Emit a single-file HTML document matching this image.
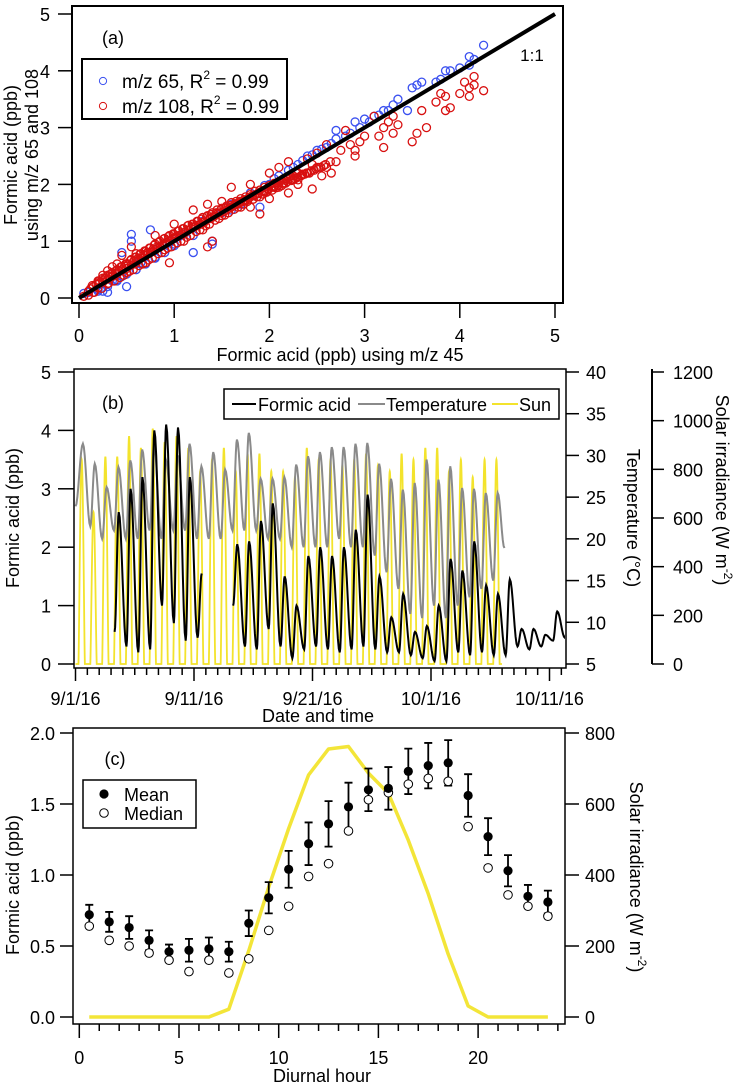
<!DOCTYPE html>
<html><head><meta charset="utf-8"><style>
html,body{margin:0;padding:0;background:#fff;}
svg{display:block;font-family:"Liberation Sans",sans-serif;}
text{fill:#000;}
</style></head><body>
<svg id="fig" width="735" height="1088" viewBox="0 0 735 1088" xmlns="http://www.w3.org/2000/svg">
<g id="pa"></g>
<g id="pb"></g>
<g id="pc"></g>
</svg>
<script>
// ---------- Panel (a) data ----------
const aTicks = [0,1,2,3,4,5];
const blueX = [0.05,0.1,0.2,0.3,0.4,0.5,0.5,0.6,0.7,0.8,0.9,0.55,0.55,0.75,0.45,1.0,1.2,1.4,1.4,1.2,1.5,1.9,1.7,2.0,2.2,2.3,2.4,2.5,2.6,2.7,2.7,2.8,2.9,3.0,3.1,3.2,3.3,3.35,3.45,3.5,3.55,3.6,3.75,3.8,3.85,3.9,4.0,4.1,4.1,4.15,4.25,1.8,1.6,2.1,0.3,0.25,0.6,0.85,1.1,1.3,0.15,0.35,0.45,0.65,0.95,1.05,1.25,1.55,2.05,2.35,2.55,2.85,3.05,3.25,0.2,0.4,0.6,0.8,1.0,1.6,1.95,2.25,2.45,2.65,2.95,3.15];
const blueY = [0.08,0.1,0.15,0.2,0.3,0.2,0.42,0.5,0.6,0.7,0.8,1.0,1.12,1.2,0.8,0.95,0.8,0.95,1.0,1.1,1.5,1.6,1.65,2.0,2.25,2.35,2.5,2.6,2.65,2.8,2.95,2.85,3.1,3.15,3.2,3.3,3.4,3.5,3.3,3.7,3.75,3.8,3.8,3.85,4.0,4.0,4.05,4.1,4.25,4.2,4.45,1.85,1.65,2.15,0.1,0.12,0.6,0.9,1.12,1.35,0.1,0.3,0.38,0.62,0.97,1.08,1.28,1.6,2.1,2.42,2.62,2.9,3.1,3.3,0.12,0.32,0.5,0.72,0.92,1.55,1.98,2.3,2.52,2.72,3.0,3.22];
const redX = [0.05,0.1,0.15,0.2,0.25,0.3,0.35,0.4,0.45,0.5,0.55,0.6,0.65,0.7,0.75,0.8,0.85,0.9,0.95,1.0,1.05,1.1,1.15,1.2,1.25,1.3,1.35,1.4,1.45,1.5,1.55,1.6,1.65,1.7,1.75,1.8,1.85,1.9,1.95,2.0,2.05,2.1,2.15,2.2,2.25,2.3,
0.3,0.5,0.7,0.9,1.1,1.3,1.5,1.7,1.9,2.1,2.3,2.4,2.5,2.2,2.0,1.8,1.9,1.4,1.35,0.95,
0.6,0.8,1.0,1.2,1.35,1.6,0.45,0.55,1.5,1.8,2.0,2.2,2.1,
2.4,2.5,2.45,2.55,2.6,2.65,2.7,2.75,2.8,2.85,2.9,2.95,3.0,2.9,3.1,3.15,3.2,3.25,3.3,3.35,3.3,3.5,3.55,3.6,3.65,3.75,3.8,3.85,3.85,3.9,4.0,4.05,4.1,4.1,4.15,4.15,4.25,3.2,2.6,2.3,2.45,
0.1,0.15,0.2,0.25,0.3,0.35,0.4,0.2,0.25,0.3,0.35,0.4,0.45,0.5,0.55,0.6,0.65,0.7,0.75,0.8,0.85,0.9,0.95,1.0,1.05,1.1,1.15,1.2,1.25,1.3,1.4,1.45,1.55,1.6,1.65,1.7,1.75,1.8,1.85,1.95,2.05,2.15,2.25,2.35,
0.12,0.18,0.22,0.28,0.32,0.38,0.42,0.48,0.52,0.58,0.62,0.68,0.72,0.78,0.82,0.88,0.92,0.98,1.02,1.08,1.12,1.18,1.22,1.28,1.32,1.38,1.42,1.48,1.52,1.58,1.62,1.68,1.72,1.78,1.82,1.88,1.92,1.98,2.02,2.08,2.12,2.18,2.22,2.28,
0.14,0.21,0.27,0.33,0.39,0.44,0.49,0.54,0.59,0.64,0.69,0.74,0.79,0.84,0.89,0.94,0.99,1.04,1.09,1.14,1.19,1.24,1.29,1.34,1.39,1.44,1.49,1.54,1.59,1.64,1.69,1.74,1.79,1.84,1.89,1.94,1.99,2.04,2.09,2.14,2.19,2.24,2.29,2.34,2.39,2.44,2.49,2.54,2.59,2.64,
0.16,0.24,0.31,0.37,0.43,0.47,0.53,0.57,0.63,0.67,0.73,0.77,0.83,0.87,0.93,0.97,1.03,1.07,1.13,1.17,1.23,1.27,1.33,1.37,1.43,1.47,1.53,1.57,1.63,1.67,1.73,1.77,1.83,1.87,1.93,1.97,2.03,2.07,2.13,2.17,2.23,2.27,2.33,2.37,2.42,2.47,2.52,2.57];
const redY = [0.03,0.12,0.2,0.25,0.35,0.4,0.45,0.5,0.55,0.6,0.68,0.72,0.78,0.82,0.88,0.95,1.0,1.05,1.1,1.12,1.18,1.22,1.28,1.3,1.35,1.42,1.45,1.5,1.55,1.58,1.62,1.68,1.7,1.75,1.78,1.82,1.88,1.9,1.95,1.98,2.02,2.05,2.1,2.12,2.15,2.2,
0.25,0.45,0.62,0.85,1.0,1.2,1.45,1.6,1.78,1.95,2.08,2.2,2.3,1.85,1.75,1.6,1.48,1.0,0.9,0.62,
0.78,1.1,1.3,1.55,1.65,1.95,0.75,0.9,1.7,2.0,2.2,2.4,2.3,
2.45,2.55,1.92,2.15,2.3,2.2,2.4,2.6,2.95,2.7,2.6,2.75,2.85,2.5,3.2,2.85,2.65,3.1,3.2,3.05,2.9,2.75,2.9,3.3,3.0,3.45,3.6,3.55,3.3,3.35,3.6,3.8,3.55,3.7,3.9,3.75,3.65,3.0,2.7,2.0,2.35,
0.05,0.1,0.18,0.28,0.33,0.38,0.42,0.3,0.4,0.48,0.55,0.6,0.48,0.52,0.58,0.62,0.7,0.75,0.8,0.85,0.9,0.95,1.0,1.05,1.1,1.15,1.2,1.25,1.28,1.33,1.42,1.48,1.55,1.6,1.65,1.7,1.72,1.78,1.82,1.88,1.96,2.02,2.08,2.18,
0.16,0.24,0.28,0.34,0.38,0.44,0.48,0.56,0.6,0.66,0.7,0.76,0.8,0.86,0.9,0.94,0.98,1.04,1.08,1.12,1.16,1.22,1.26,1.3,1.34,1.4,1.44,1.5,1.52,1.58,1.62,1.66,1.7,1.76,1.8,1.84,1.88,1.92,1.96,2.02,2.06,2.1,2.14,2.2,
0.22,0.3,0.35,0.42,0.48,0.55,0.6,0.66,0.72,0.77,0.83,0.88,0.93,0.98,1.04,1.08,1.13,1.18,1.22,1.27,1.3,1.35,1.39,1.43,1.47,1.5,1.55,1.58,1.63,1.66,1.7,1.73,1.77,1.8,1.84,1.88,1.91,1.95,1.98,2.02,2.05,2.09,2.12,2.16,2.2,2.24,2.28,2.3,2.35,2.4,
0.1,0.17,0.26,0.3,0.36,0.4,0.47,0.5,0.57,0.6,0.67,0.7,0.78,0.8,0.88,0.9,0.97,1.0,1.07,1.1,1.17,1.2,1.27,1.3,1.37,1.4,1.46,1.5,1.56,1.6,1.65,1.7,1.74,1.78,1.83,1.86,1.9,1.94,1.98,2.02,2.07,2.1,2.15,2.18,2.2,2.25,2.3,2.33];

// ---------- Panel (b) data ----------
const bDateLabels = ["9/1/16","9/11/16","9/21/16","10/1/16","10/11/16"];
const bDateDays = [0,10,20,30,40];
const bLeftTicks = [0,1,2,3,4,5];
const bTempTicks = [5,10,15,20,25,30,35,40];
const bSolarTicks = [0,200,400,600,800,1000,1200];
const faMax = [null,null,null,2.6,3.0,3.2,4.0,4.1,4.05,3.2,1.55,null,null,2.05,2.1,2.45,2.75,1.5,1.0,1.85,2.0,1.85,2.0,2.3,2.9,1.5,0.8,1.2,0.55,0.65,1.0,1.8,1.6,2.1,1.35,1.2,1.45,0.6,0.6,0.5,0.9,0.75];
const faMin = [null,null,null,0.55,0.3,0.2,0.25,1.0,0.7,0.4,0.45,null,null,1.0,0.3,0.25,0.6,0.3,0.1,0.25,0.3,0.25,0.2,0.25,0.3,0.25,0.2,0.2,0.15,0.1,0.05,0.05,0.2,0.15,0.2,0.15,0.15,0.3,0.25,0.3,0.4,0.45];
const tempMax = [31.4,29,26.2,28.6,29.4,30.7,31.3,29.5,30,31.4,28.7,30.4,28.3,31.9,32.7,27.2,27.2,27.4,28.9,29.9,30.4,31,31,31.4,31.5,29,27.2,25.9,26.7,29.5,27.1,28.7,26.1,26,25.5,25.5];
const tempMin = [22,21.5,20,21,20,20,21,20,21,21,20,20,20,21,21,21,20,20,19,19,19,19,20,19,19,18,16,14,11,10.5,12,10.5,12,13,14,15];
const sunPeak = [840,624,852,852,936,888,967,912,936,888,792,840,888,792,864,864,792,792,768,888,840,840,816,840,864,816,792,864,840,888,888,792,840,768,840,840];

// ---------- Panel (c) data ----------
const cHours = [0.5,1.5,2.5,3.5,4.5,5.5,6.5,7.5,8.5,9.5,10.5,11.5,12.5,13.5,14.5,15.5,16.5,17.5,18.5,19.5,20.5,21.5,22.5,23.5];
const cMean = [0.72,0.67,0.63,0.54,0.46,0.47,0.48,0.46,0.66,0.84,1.04,1.22,1.36,1.48,1.60,1.61,1.73,1.77,1.79,1.56,1.27,1.03,0.85,0.81];
const cErr = [0.07,0.07,0.08,0.07,0.05,0.08,0.08,0.07,0.09,0.11,0.13,0.15,0.16,0.17,0.15,0.15,0.16,0.16,0.16,0.15,0.13,0.11,0.08,0.08];
const cMedian = [0.64,0.54,0.50,0.45,0.40,0.32,0.40,0.31,0.41,0.61,0.78,0.99,1.08,1.31,1.53,1.58,1.64,1.68,1.66,1.34,1.05,0.86,0.78,0.71];
const cSolar = [0,0,0,0,0,0,0,22,187,366,531,682,755,762,687,630,498,347,177,31,0,0,0,0];
const cXTicks = [0,5,10,15,20];
const cLeftTicks = [0,0.5,1.0,1.5,2.0];
const cRightTicks = [0,200,400,600,800];

const NS = "http://www.w3.org/2000/svg";
const FS = 18;
function mk(parent, tag, attrs, txt){
  const e = document.createElementNS(NS, tag);
  for (const k in attrs) e.setAttribute(k, attrs[k]);
  if (txt !== undefined) e.textContent = txt;
  parent.appendChild(e);
  return e;
}
function line(p,x1,y1,x2,y2,w,c){return mk(p,"line",{x1:x1,y1:y1,x2:x2,y2:y2,stroke:c||"#000","stroke-width":w||1.3});}
function txt(p,x,y,s,anchor,size){return mk(p,"text",{x:x,y:y,"text-anchor":anchor||"middle","font-size":size||FS},s);}

// ================= Panel A =================
(function(){
  const g = document.getElementById("pa");
  const xA = v => 79 + v*95.2;
  const yA = v => 298 - v*56.8;
  const box = mk(g,"rect",{x:72,y:6,width:491,height:297,fill:"none",stroke:"#000","stroke-width":2});
  
  
  aTicks.forEach(t=>{
    const tk = line(g,xA(t),303,xA(t),318,1.5);
    
    
    const tl = txt(g,xA(t),342,String(t));
    
    
    const ty = line(g,58,yA(t),72,yA(t),1.5);
    
    
    const yl = txt(g,50,yA(t)+7,String(t),"end");
    
    
  });
  blueX.forEach((v,i)=>{
    const c = mk(g,"circle",{cx:xA(v),cy:yA(blueY[i]),r:4,fill:"none",stroke:"#3a50f0","stroke-width":1.3});
    
    
  });
  redX.forEach((v,i)=>{
    const c = mk(g,"circle",{cx:xA(v),cy:yA(redY[i]),r:4,fill:"none",stroke:"#d81010","stroke-width":1.3});
    
    
  });
  const l11 = line(g,xA(0),yA(0),xA(5),yA(5),4,"#000");
  
  
  const t11 = txt(g,532,61,"1:1","middle",17);
  
  
  const pl = txt(g,102,44,"(a)","start",18);
  
  
  const lg = mk(g,"g",{});
  
  
  mk(lg,"rect",{x:82,y:59,width:205,height:60,fill:"#fff",stroke:"#000","stroke-width":2});
  const e1 = mk(lg,"g",{});
  
  
  mk(e1,"circle",{cx:103,cy:81,r:3.6,fill:"none",stroke:"#3a50f0","stroke-width":1});
  const t1 = mk(e1,"text",{x:122,y:88,"font-size":19});
  t1.innerHTML = 'm/z 65, R<tspan dy="-9" font-size="12">2</tspan><tspan dy="9"> = 0.99</tspan>';
  const e2 = mk(lg,"g",{});
  
  
  mk(e2,"circle",{cx:103,cy:106,r:3.6,fill:"none",stroke:"#d81010","stroke-width":1});
  const t2 = mk(e2,"text",{x:122,y:113,"font-size":19});
  t2.innerHTML = 'm/z 108, R<tspan dy="-9" font-size="12">2</tspan><tspan dy="9"> = 0.99</tspan>';
  const xt = txt(g,340,361,"Formic acid (ppb) using m/z 45");
  
  
  const yt = mk(g,"text",{transform:"translate(17,155) rotate(-90)","text-anchor":"middle","font-size":FS},"Formic acid (ppb)");
  
  
  const yt2 = mk(g,"text",{transform:"translate(38,155) rotate(-90)","text-anchor":"middle","font-size":FS},"using m/z 65 and 108");
  
  
})();

// ================= Panel B =================
(function(){
  const g = document.getElementById("pb");
  const xB = d => 75.5 + d*11.85;
  const yB = v => 664 - v*58.4;
  const yT = c => 664 - (c-5)/35*292;
  const yS = w => 664 - w/1200*292;
  const cp = mk(g,"clipPath",{id:"clipb"});
  mk(cp,"rect",{x:74,y:369,width:491,height:299});
  const plot = mk(g,"g",{"clip-path":"url(#clipb)"});
  let sd = "";
  sunPeak.forEach((p,d)=>{
    for(let q=0;q<96;q++){
      const h = q/4;
      let s = Math.max(0, Math.sin(Math.PI*(h-6)/13));
      if (h<6||h>19) s = 0;
      s = Math.pow(s,1.3);
      sd += (sd===""?"M":"L") + xB(d+h/24).toFixed(2)+","+yS(p*s).toFixed(2);
    }
  });
  const sun = mk(plot,"path",{d:sd,fill:"none",stroke:"#f3e32c","stroke-width":1.8});
  
  
  const tk = [[0,23.9]];
  tempMax.forEach((mx,d)=>{
    if(d>0) tk.push([d+6/24,tempMin[d]]);
    tk.push([d+15/24,mx]);
  });
  tk.push([36.2,18.9]);
  function smooth(kp, yf){
    let dd="";
    for(let i=0;i<kp.length-1;i++){
      const [t0,v0]=kp[i],[t1,v1]=kp[i+1];
      const n=8;
      for(let j=(i===0?0:1);j<=n;j++){
        const f=j/n, w=(1-Math.cos(Math.PI*f))/2;
        dd += (dd===""?"M":"L")+xB(t0+(t1-t0)*f).toFixed(2)+","+yf(v0+(v1-v0)*w).toFixed(2);
      }
    }
    return dd;
  }
  const temp = mk(plot,"path",{d:smooth(tk,yT),fill:"none",stroke:"#8a8a8a","stroke-width":2});
  
  
  let seg=[], segs=[];
  faMax.forEach((mx,d)=>{
    if(mx===null){ if(seg.length) segs.push(seg); seg=[]; return; }
    seg.push([d+0.3,faMin[d]]); seg.push([d+0.65,mx]);
  });
  if(seg.length) segs.push(seg);
  segs.forEach(s=>{
    const p = mk(plot,"path",{d:smooth(s,yB),fill:"none",stroke:"#000","stroke-width":2});
    
    
  });
  const box = mk(g,"rect",{x:74,y:369,width:492,height:299,fill:"none",stroke:"#000","stroke-width":1.5});
  
  
  for(let d=0; d<=41; d++){
    const major = bDateDays.indexOf(d)>=0;
    const t = line(g,xB(d),668,xB(d),major?681:675,1.5);
    
    
  }
  bDateLabels.forEach((s,i)=>{
    const t = txt(g,xB(bDateDays[i]),705,s);
    
    
  });
  bLeftTicks.forEach(v=>{
    const t = line(g,58,yB(v),74,yB(v),1.5);
    
    
    const l = txt(g,51,yB(v)+7,String(v),"end");
    
    
  });
  bTempTicks.forEach(v=>{
    const t = line(g,566,yT(v),579,yT(v),1.5);
    
    
    const l = txt(g,586,yT(v)+7,String(v),"start");
    
    
  });
  const sax = line(g,652,369,652,664,2);
  
  
  bSolarTicks.forEach(v=>{
    const t = line(g,652,yS(v),664,yS(v),1.5);
    
    
    const l = txt(g,673,yS(v)+7,String(v),"start");
    
    
  });
  const pl = txt(g,113,409,"(b)","middle",18);
  
  
  const lg = mk(g,"g",{});
  
  
  mk(lg,"rect",{x:224,y:389,width:335,height:30,fill:"#fff",stroke:"#000","stroke-width":1.5});
  const ents = [[232,256,258,"Formic acid","#000"],[358,385,386,"Temperature","#8a8a8a"],[492,518,519,"Sun","#f3e32c"]];
  ents.forEach(e=>{
    const eg = mk(lg,"g",{});
    
    
    line(eg,e[0],404,e[1],404,2,e[4]);
    txt(eg,e[2],411,e[3],"start",18);
  });
  const xt = txt(g,318,722,"Date and time");
  
  
  const yt = mk(g,"text",{transform:"translate(19,518) rotate(-90)","text-anchor":"middle","font-size":FS},"Formic acid (ppb)");
  
  
  const tt = mk(g,"text",{transform:"translate(627,518) rotate(90)","text-anchor":"middle","font-size":FS},"Temperature (°C)");
  
  
  const st = mk(g,"text",{transform:"translate(716,490) rotate(90)","text-anchor":"middle","font-size":FS});
  st.innerHTML = 'Solar irradiance (W m<tspan dy="-8" font-size="12">-2</tspan><tspan dy="8">)</tspan>';
  
  
})();

// ================= Panel C =================
(function(){
  const g = document.getElementById("pc");
  const xC = h => 79.3 + h*19.94;
  const yC = v => 1017 - v*142;
  const yR = w => 1017 - w/800*284;
  const box = mk(g,"rect",{x:73,y:728,width:492,height:296,fill:"none",stroke:"#000","stroke-width":1.5});
  
  
  for(let h=0; h<=24; h++){
    const major = cXTicks.indexOf(h)>=0;
    const t = line(g,xC(h),1024,xC(h),major?1038:1031,1.5);
    
    
  }
  cXTicks.forEach(h=>{
    const l = txt(g,xC(h),1064,String(h));
    
    
  });
  cLeftTicks.forEach(v=>{
    const t = line(g,60,yC(v),73,yC(v),1.5);
    
    
    const l = txt(g,55,yC(v)+7,v.toFixed(1),"end");
    
    
  });
  cRightTicks.forEach(v=>{
    const t = line(g,565,yR(v),579,yR(v),1.5);
    
    
    const l = txt(g,585,yR(v)+7,String(v),"start");
    
    
  });
  let d="";
  cHours.forEach((h,i)=>{ d += (i?"L":"M")+xC(h).toFixed(2)+","+yR(cSolar[i]).toFixed(2); });
  const sl = mk(g,"path",{d:d,fill:"none",stroke:"#f3e538","stroke-width":3.5,"stroke-linejoin":"round"});
  
  
  cHours.forEach((h,i)=>{
    const x = xC(h);
    const eb = mk(g,"path",{d:`M${x},${yC(cMean[i]-cErr[i])}V${yC(cMean[i]+cErr[i])}M${x-4},${yC(cMean[i]-cErr[i])}H${x+4}M${x-4},${yC(cMean[i]+cErr[i])}H${x+4}`,stroke:"#000","stroke-width":1.8,fill:"none"});
    
    
    const md = mk(g,"circle",{cx:x,cy:yC(cMedian[i]),r:4.3,fill:"#fff",stroke:"#000","stroke-width":1});
    
    
    const mn = mk(g,"circle",{cx:x,cy:yC(cMean[i]),r:4.6,fill:"#000"});
    
    
  });
  const pl = txt(g,115,765,"(c)","middle",18);
  
  
  const lg = mk(g,"g",{});
  
  
  mk(lg,"rect",{x:83,y:780,width:113,height:48,fill:"#fff",stroke:"#000","stroke-width":1.5});
  const m1 = mk(lg,"g",{});
  
  
  mk(m1,"circle",{cx:104,cy:794,r:4.6,fill:"#000"});
  txt(m1,124,801,"Mean","start",18);
  const m2 = mk(lg,"g",{});
  
  
  mk(m2,"circle",{cx:104,cy:813,r:4.3,fill:"#fff",stroke:"#000","stroke-width":1});
  txt(m2,124,820,"Median","start",18);
  const xt = txt(g,322,1082,"Diurnal hour");
  
  
  const yt = mk(g,"text",{transform:"translate(19,885) rotate(-90)","text-anchor":"middle","font-size":FS},"Formic acid (ppb)");
  
  
  const st = mk(g,"text",{transform:"translate(630,877) rotate(90)","text-anchor":"middle","font-size":FS});
  st.innerHTML = 'Solar irradiance (W m<tspan dy="-8" font-size="12">-2</tspan><tspan dy="8">)</tspan>';
  
  
})();
</script>
</body></html>
